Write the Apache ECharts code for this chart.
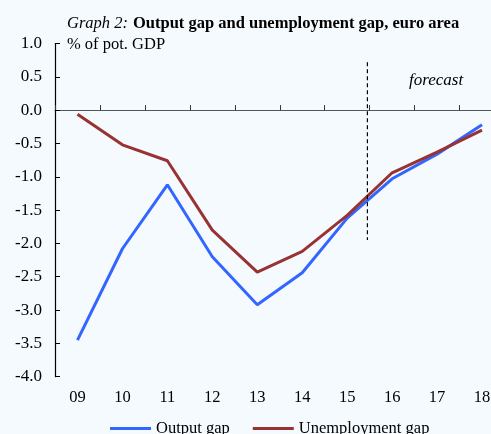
<!DOCTYPE html>
<html>
<head>
<meta charset="utf-8">
<script src="https://cdn.jsdelivr.net/npm/echarts@6/dist/echarts.min.js"></script>
<style>
  html, body { margin: 0; padding: 0; background: #f5faff; overflow: hidden; }
  #chart { width: 505px; height: 434px; }
</style>
</head>
<body>
<div id="chart"></div>
<script>
// years (2009-2018)
var years = ['09', '10', '11', '12', '13', '14', '15', '16', '17', '18'];
// output gap, % of potential GDP
var outputGap = [-3.45, -2.08, -1.12, -2.2, -2.92, -2.44, -1.62, -1.03, -0.66, -0.22];
// unemployment gap
var unemploymentGap = [-0.06, -0.52, -0.76, -1.8, -2.43, -2.12, -1.58, -0.94, -0.63, -0.3];
// forecast divider between 15 and 16
var forecastLine = [[6.45, 0.72], [6.45, -1.95]];

var serif = '"Liberation Serif", "DejaVu Serif", serif';

var myChart = echarts.init(document.getElementById('chart'));

var option = {
    backgroundColor: '#f5faff',
    animation: false,
    title: {
        text: '{i|Graph 2:} {b|Output gap and unemployment gap, euro area}',
        left: 62,
        top: 10,
        textStyle: {
            rich: {
                i: { fontFamily: serif, fontStyle: 'italic', fontWeight: 'normal', fontSize: 16.5, color: '#000' },
                b: { fontFamily: serif, fontWeight: 'bold', fontSize: 16.5, color: '#000' }
            }
        }
    },
    graphic: [
        { type: 'text', left: 67, top: 36, style: { text: '% of pot. GDP', font: '16.5px ' + serif, fill: '#000' } },
        { type: 'text', left: 409, top: 72, style: { text: 'forecast', font: 'italic 17px ' + serif, fill: '#000' } }
    ],
    legend: {
        data: [{ name: 'Output gap', icon: 'rect' }, { name: 'Unemployment gap', icon: 'rect' }],
        left: 105,
        top: 415,
        itemWidth: 41,
        itemHeight: 3,
        itemGap: 23,
        textStyle: { fontFamily: serif, fontSize: 16.5, color: '#000' }
    },
    grid: { left: 55, top: 43.5, bottom: 57.3, right: 0.5, containLabel: false },
    xAxis: [{
        type: 'category',
        data: years,
        boundaryGap: true,
        axisLine: { show: true, onZero: true, lineStyle: { color: '#555', width: 1.2 } },
        axisTick: { show: true, inside: true, length: 5, interval: 0, lineStyle: { color: '#333', width: 1 } },
        axisLabel: { show: false },
        splitLine: { show: false }
    }, {
        type: 'category',
        data: years,
        position: 'bottom',
        boundaryGap: true,
        axisLine: { show: false, onZero: false },
        axisTick: { show: false },
        axisLabel: { fontFamily: serif, fontSize: 16.5, color: '#000', margin: 12, interval: 0 },
        splitLine: { show: false }
    }, {
        type: 'value',
        min: -0.5,
        max: 9.5,
        show: false
    }],
    yAxis: {
        type: 'value',
        min: -4,
        max: 1,
        interval: 0.5,
        axisLine: { show: true, onZero: false, lineStyle: { color: '#000', width: 1.2 } },
        axisTick: { show: true, inside: true, length: 5, lineStyle: { color: '#000' } },
        axisLabel: {
            fontFamily: serif, fontSize: 17, color: '#000', margin: 13,
            formatter: function (v) { return v.toFixed(1); }
        },
        splitLine: { show: false }
    },
    series: [{
        name: 'Output gap',
        type: 'line',
        xAxisIndex: 0,
        data: outputGap,
        symbol: 'none',
        color: '#3366ff',
        lineStyle: { color: '#3366ff', width: 3 }
    }, {
        name: 'Unemployment gap',
        type: 'line',
        xAxisIndex: 0,
        data: unemploymentGap,
        symbol: 'none',
        color: '#993333',
        lineStyle: { color: '#993333', width: 3 }
    }, {
        name: 'forecast',
        type: 'line',
        xAxisIndex: 2,
        data: forecastLine,
        symbol: 'none',
        silent: true,
        lineStyle: { color: '#000', width: 1.2, type: [4, 3] }
    }]
};

myChart.setOption(option);
</script>
</body>
</html>
